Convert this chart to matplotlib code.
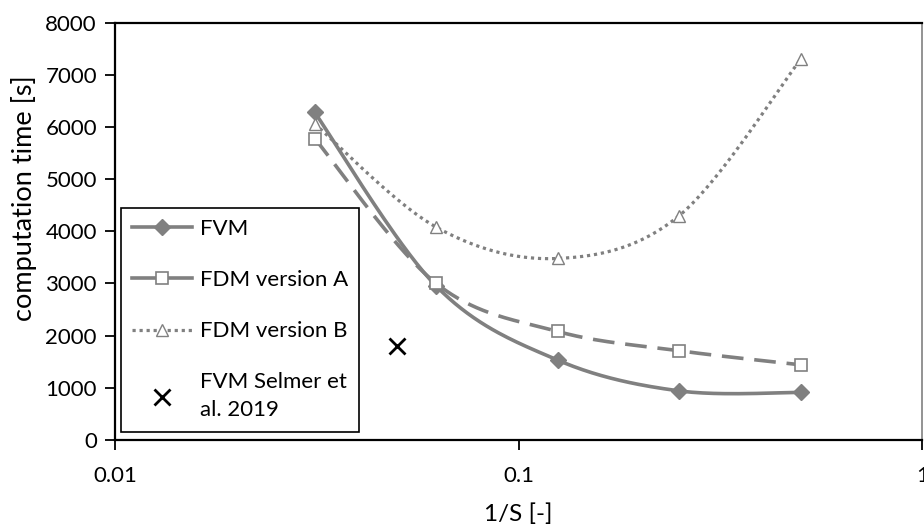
import numpy as np
import matplotlib
matplotlib.use("Agg")
import matplotlib.pyplot as plt

plt.rcParams['font.family'] = ['Lato', 'DejaVu Sans']

# data
inv_s = [1/32, 1/16, 1/8, 1/4, 1/2]
fvm = [6280, 2950, 1530, 940, 910]
fdm_a = [5780, 3000, 2080, 1710, 1440]
fdm_b = [6060, 4080, 3480, 4300, 7300]
selmer_x = [0.05]
selmer_y = [1800]

GREY = '#808080'


def smooth(ax, xs, ys, n=40):
    # Excel style smoothed line: cubic bezier, control points from neighbours
    # worked out in display space so the shape follows the log axis
    pts = ax.transData.transform(np.column_stack([xs, ys]))
    out = []
    for i in range(len(pts) - 1):
        p0 = pts[max(i - 1, 0)]
        p1 = pts[i]
        p2 = pts[i + 1]
        p3 = pts[min(i + 2, len(pts) - 1)]
        c1 = p1 + (p2 - p0) / 6
        c2 = p2 - (p3 - p1) / 6
        t = np.linspace(0, 1, n)[:, None]
        seg = ((1 - t) ** 3 * p1 + 3 * (1 - t) ** 2 * t * c1
               + 3 * (1 - t) * t ** 2 * c2 + t ** 3 * p2)
        out.append(seg if i == 0 else seg[1:])
    out = np.vstack(out)
    data = ax.transData.inverted().transform(out)
    return data[:, 0], data[:, 1]


fig = plt.figure(figsize=(9.24, 5.30), dpi=100)
ax = fig.add_axes([0.1245, 0.170, 0.8735, 0.787])
ax.set_xscale('log')
ax.set_xlim(0.01, 1)
ax.set_ylim(0, 8000)
ax.set_yticks(range(0, 8001, 1000))
ax.set_xticks([0.01, 0.1, 1])
ax.set_xticklabels(['0.01', '0.1', '1'])
ax.minorticks_off()
fig.canvas.draw()

sx, sy = smooth(ax, inv_s, fvm)
ax.plot(sx, sy, color=GREY, lw=2.6, solid_capstyle='round')
sx, sy = smooth(ax, inv_s, fdm_a)
ax.plot(sx, sy, color=GREY, lw=2.6, dashes=(6, 3))
sx, sy = smooth(ax, inv_s, fdm_b)
ax.plot(sx, sy, color=GREY, lw=2.3, dashes=(1, 1.2))

ax.plot(inv_s, fvm, ls='none', marker='D', ms=8, color=GREY)
ax.plot(inv_s, fdm_a, ls='none', marker='s', ms=9, mfc='white', mec=GREY, mew=1.2)
ax.plot(inv_s, fdm_b, ls='none', marker='^', ms=9, mfc='white', mec=GREY, mew=1.0)
ax.plot(selmer_x, selmer_y, ls='none', marker='x', ms=12, mew=2, color='black')

# legend proxies
h1, = ax.plot([], [], color=GREY, lw=2.6, marker='D', ms=8, label='FVM')
h2, = ax.plot([], [], color=GREY, lw=2.6, marker='s', ms=9, mfc='white',
              mec=GREY, mew=1.2, label='FDM version A')
h3, = ax.plot([], [], color=GREY, lw=2.3, dashes=(1, 1.2), marker='^', ms=9,
              mfc='white', mec=GREY, mew=1.0, label='FDM version B')
h4, = ax.plot([], [], ls='none', marker='x', ms=12, mew=2, color='black',
              label='FVM Selmer et\nal. 2019')
leg = ax.legend(handles=[h1, h2, h3, h4], loc='upper left',
                bbox_to_anchor=(0.0074, 0.556), fontsize=16, frameon=True,
                fancybox=False, edgecolor='black', framealpha=1,
                labelspacing=1.4, handlelength=2.7, handletextpad=0.35,
                borderpad=0.5, borderaxespad=0)
leg.get_frame().set_linewidth(1.2)
for txt in leg.get_texts():
    txt.set_linespacing(1.5)

for side in ['left', 'bottom', 'top']:
    ax.spines[side].set_color('black')
    ax.spines[side].set_linewidth(1.6)
ax.spines['right'].set_color(GREY)
ax.spines['right'].set_linewidth(1.2)

ax.tick_params(direction='out', length=7, width=1.3, labelsize=16,
               colors='black', pad=6)
ax.tick_params(axis='x', pad=12)
ax.set_xlabel('1/S [-]', fontsize=17.5, labelpad=12)
ax.set_ylabel('computation time [s]', fontsize=19.5)
ax.yaxis.set_label_coords(-0.097, 0.58)

fig.savefig('out.png', dpi=100)
